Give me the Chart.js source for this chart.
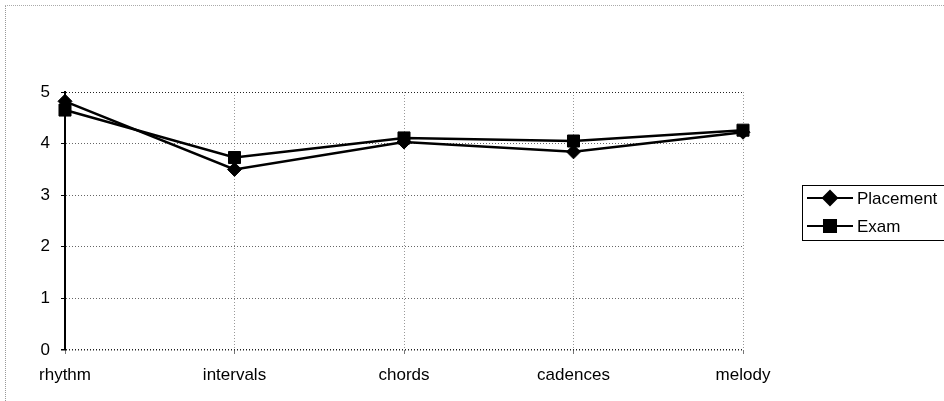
<!DOCTYPE html>
<html>
<head>
<meta charset="utf-8">
<script src="https://cdn.jsdelivr.net/npm/chart.js@4/dist/chart.umd.min.js"></script>
<style>
  html, body { margin: 0; padding: 0; background: #fff; }
  #wrap { position: relative; width: 944px; height: 401px; }
  #frame {
    position: absolute; left: 5px; top: 5px; right: 0; bottom: 0;
    border-left: 1px dotted #999; border-top: 1px dotted #aaa;
  }
</style>
</head>
<body>
<div id="wrap">
  <div id="frame"></div>
  <canvas id="chart" width="944" height="401"></canvas>
</div>
<script>
// data
const categories = ['rhythm', 'intervals', 'chords', 'cadences', 'melody'];
const placement = [4.82, 3.50, 4.03, 3.84, 4.22];
const exam = [4.65, 3.73, 4.11, 4.05, 4.26];
const yTicks = [0, 1, 2, 3, 4, 5];

const FONT = "'Liberation Sans', Arial, sans-serif";

// legend box drawn at the right, like the original
const boxLegend = {
  id: 'boxLegend',
  afterDraw(chart) {
    const ctx = chart.ctx;
    ctx.save();
    ctx.strokeStyle = '#000';
    ctx.lineWidth = 1;
    ctx.strokeRect(802.5, 185.5, 150, 55);
    chart.data.datasets.forEach((ds, i) => {
      const y = 198 + i * 28;
      ctx.strokeStyle = '#000';
      ctx.lineWidth = 2;
      ctx.beginPath();
      ctx.moveTo(807, y);
      ctx.lineTo(853, y);
      ctx.stroke();
      ctx.fillStyle = '#000';
      Chart.helpers.drawPoint(ctx, {
        pointStyle: ds.pointStyle,
        radius: ds.pointRadius,
        borderWidth: 1
      }, 830, y);
      ctx.font = '17px ' + FONT;
      ctx.textBaseline = 'middle';
      ctx.textAlign = 'left';
      ctx.fillText(ds.label, 857, y + 1);
    });
    ctx.restore();
  }
};

new Chart(document.getElementById('chart'), {
  type: 'line',
  data: {
    labels: categories,
    datasets: [
      {
        label: 'Placement',
        data: placement,
        borderColor: '#000',
        backgroundColor: '#000',
        borderWidth: 2.5,
        pointStyle: 'rectRot',
        pointRadius: 7,
        pointBorderWidth: 1,
        tension: 0
      },
      {
        label: 'Exam',
        data: exam,
        borderColor: '#000',
        backgroundColor: '#000',
        borderWidth: 2.5,
        pointStyle: 'rect',
        pointRadius: 8.5,
        pointBorderWidth: 1,
        tension: 0
      }
    ]
  },
  options: {
    responsive: false,
    animation: false,
    layout: { padding: { left: 0, top: 92, right: 201, bottom: 0 } },
    plugins: {
      legend: { display: false },
      tooltip: { enabled: false }
    },
    scales: {
      x: {
        offset: false,
        grid: {
          color: '#999',
          tickLength: 4,
          tickColor: '#777',
          tickBorderDash: []
        },
        border: { display: false, dash: [1, 2] },
        ticks: {
          color: '#000',
          font: { family: FONT, size: 17 },
          padding: 11,
          maxRotation: 0,
          autoSkip: false
        },
        afterFit(scale) { scale.height = 51; }
      },
      y: {
        min: 0,
        max: 5,
        afterBuildTicks(scale) { scale.ticks = yTicks.map(v => ({ value: v })); },
        grid: {
          color: ctx => (ctx.tick && (ctx.tick.value === 0 || ctx.tick.value === 5)) ? '#222' : '#666',
          lineWidth: ctx => (ctx.tick && ctx.tick.value === 0) ? 1.5 : 1,
          tickLength: 4,
          tickColor: '#000',
          tickBorderDash: []
        },
        border: { color: '#000', width: 2, dash: [1, 2] },
        ticks: {
          color: '#000',
          font: { family: FONT, size: 17 },
          padding: 11
        },
        afterFit(scale) { scale.width = 65; }
      }
    }
  },
  plugins: [boxLegend]
});
</script>
</body>
</html>
